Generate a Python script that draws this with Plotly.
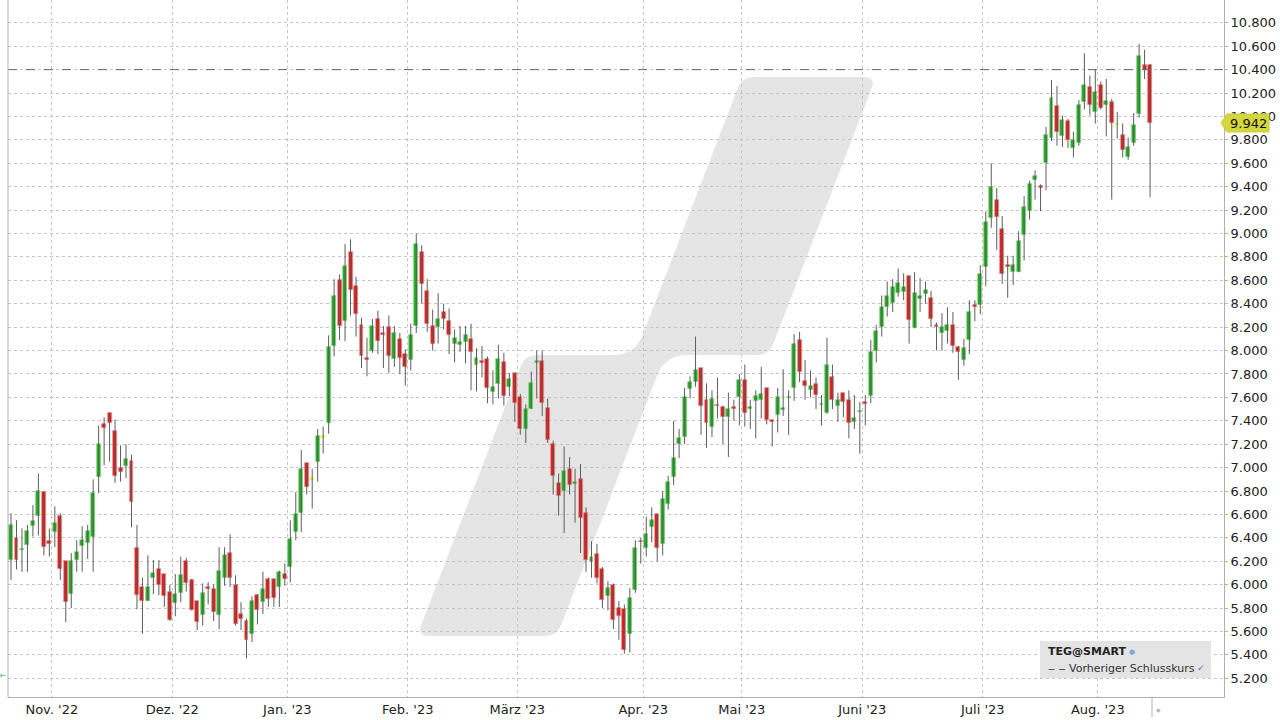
import pandas as pd
import plotly.graph_objects as go

# ---------------- data ----------------
holidays = ["2022-12-26", "2023-04-07", "2023-04-10", "2023-05-01"]
dates = [d for d in pd.bdate_range("2022-10-20", "2023-08-14") if d.strftime("%Y-%m-%d") not in holidays]

open_ = [6.21, 6.40, 6.30, 6.34, 6.50, 6.59, 6.79, 6.37, 6.45, 6.59,
         6.20, 5.92, 6.21, 6.33, 6.36, 6.41, 6.92, 7.37, 7.47, 7.31,
         7.00, 7.01, 7.06, 6.31, 5.98, 5.86, 6.06, 6.13, 6.09, 5.94,
         5.84, 5.93, 6.20, 6.04, 5.86, 5.74, 5.98, 5.96, 5.74, 6.06,
         6.27, 6.00, 5.75, 5.69, 5.58, 5.91, 5.85, 6.05, 6.05, 5.98,
         6.09, 6.15, 6.45, 6.61, 7.04, 6.90, 7.05, 7.26, 7.38, 8.04,
         8.60, 8.25, 8.84, 8.55, 8.22, 7.94, 8.00, 8.27, 8.15, 8.20,
         7.93, 8.10, 7.97, 7.92, 8.21, 8.84, 8.51, 8.21, 8.20, 8.33,
         8.25, 8.06, 8.05, 8.07, 8.10, 7.88, 7.91, 7.93, 7.65, 7.71,
         7.90, 7.69, 7.81, 7.60, 7.33, 7.50, 7.90, 7.91, 7.51, 7.20,
         6.87, 6.80, 6.99, 6.87, 6.90, 6.61, 6.19, 6.26, 6.13, 5.90,
         6.00, 5.80, 5.79, 5.58, 5.95, 6.38, 6.31, 6.49, 6.60, 6.35,
         6.69, 6.92, 7.20, 7.26, 7.67, 7.73, 7.85, 7.58, 7.35, 7.54,
         7.52, 7.43, 7.52, 7.60, 7.75, 7.50, 7.57, 7.58, 7.68, 7.41,
         7.45, 7.50, 7.60, 7.68, 8.09, 7.74, 7.66, 7.71, 7.54, 7.47,
         7.77, 7.53, 7.64, 7.58, 7.39, 7.48, 7.56, 7.61, 8.00, 8.20,
         8.37, 8.41, 8.49, 8.50, 8.64, 8.19, 8.44, 8.48, 8.45, 8.22,
         8.15, 8.17, 8.22, 8.03, 7.92, 8.09, 8.39, 8.39, 8.71, 9.13,
         9.29, 9.04, 8.73, 8.67, 8.67, 8.99, 9.19, 9.46, 9.41, 9.60,
         9.82, 10.09, 9.83, 9.96, 9.73, 9.77, 10.12, 10.25, 10.04, 10.27,
         10.10, 10.12, 9.93, 9.84, 9.65, 9.77, 10.02, 10.44, 10.44]
high = [6.61, 6.55, 6.48, 6.51, 6.68, 6.95, 6.80, 6.48, 6.67, 6.61,
        6.20, 6.27, 6.38, 6.50, 6.51, 6.90, 7.36, 7.43, 7.47, 7.41,
        7.19, 7.20, 7.11, 6.51, 6.06, 6.25, 6.21, 6.21, 6.09, 6.00,
        6.09, 6.24, 6.23, 6.05, 5.86, 6.01, 6.02, 6.00, 6.32, 6.32,
        6.43, 6.08, 5.85, 5.71, 5.90, 5.92, 6.11, 6.06, 6.05, 6.12,
        6.18, 6.55, 6.79, 7.15, 7.04, 6.99, 7.33, 7.35, 8.13, 8.61,
        8.65, 8.91, 8.95, 8.63, 8.28, 8.11, 8.27, 8.34, 8.21, 8.30,
        8.21, 8.15, 8.01, 8.23, 9.00, 8.90, 8.61, 8.35, 8.49, 8.40,
        8.36, 8.18, 8.21, 8.21, 8.23, 8.02, 8.04, 7.95, 7.83, 8.05,
        7.98, 7.81, 7.81, 7.63, 7.54, 7.82, 8.00, 8.00, 7.59, 7.23,
        6.95, 7.18, 7.09, 6.99, 7.03, 6.66, 6.37, 6.35, 6.15, 6.03,
        6.01, 5.86, 5.83, 5.97, 6.38, 6.40, 6.58, 6.66, 6.60, 6.80,
        6.93, 7.40, 7.33, 7.68, 7.78, 8.12, 7.85, 7.72, 7.66, 7.77,
        7.53, 7.64, 7.58, 7.80, 7.88, 7.58, 7.66, 7.86, 7.68, 7.41,
        7.68, 7.84, 7.66, 8.14, 8.16, 7.92, 7.83, 7.77, 7.62, 8.11,
        7.88, 7.64, 7.64, 7.66, 7.62, 7.56, 7.62, 8.09, 8.22, 8.47,
        8.59, 8.61, 8.70, 8.66, 8.64, 8.67, 8.62, 8.59, 8.51, 8.24,
        8.32, 8.37, 8.33, 8.04, 8.10, 8.43, 8.43, 8.73, 9.19, 9.60,
        9.39, 9.15, 8.81, 8.81, 9.02, 9.32, 9.45, 9.54, 9.42, 9.91,
        10.31, 10.26, 10.01, 9.98, 9.87, 10.14, 10.54, 10.35, 10.40, 10.30,
        10.32, 10.15, 10.04, 9.94, 9.82, 10.03, 10.62, 10.57, 10.45]
low = [6.04, 6.13, 6.11, 6.11, 6.41, 6.42, 6.25, 6.24, 6.32, 6.04,
       5.68, 5.80, 6.11, 6.11, 6.22, 6.11, 6.78, 7.02, 7.05, 6.87,
       6.88, 6.91, 6.49, 5.79, 5.58, 5.86, 5.92, 5.91, 5.81, 5.69,
       5.73, 5.85, 5.94, 5.78, 5.61, 5.65, 5.83, 5.69, 5.62, 5.99,
       5.98, 5.65, 5.61, 5.37, 5.51, 5.66, 5.75, 5.81, 5.81, 5.81,
       5.99, 6.02, 6.38, 6.45, 6.77, 6.65, 6.88, 7.12, 7.29, 7.95,
       8.09, 8.08, 8.30, 8.12, 7.85, 7.78, 7.98, 7.97, 7.85, 7.81,
       7.86, 7.80, 7.70, 7.83, 8.15, 8.40, 8.16, 8.00, 8.06, 8.18,
       7.97, 7.90, 7.99, 7.89, 7.66, 7.65, 7.77, 7.55, 7.54, 7.59,
       7.53, 7.61, 7.39, 7.28, 7.21, 7.50, 7.59, 7.44, 7.21, 6.77,
       6.59, 6.44, 6.77, 6.53, 6.27, 6.11, 6.06, 6.01, 5.80, 5.78,
       5.62, 5.53, 5.41, 5.42, 5.93, 6.18, 6.24, 6.36, 6.20, 6.25,
       6.64, 6.85, 7.08, 7.20, 7.59, 7.69, 7.28, 7.17, 7.26, 7.42,
       7.20, 7.09, 7.40, 7.36, 7.35, 7.33, 7.25, 7.42, 7.37, 7.18,
       7.30, 7.44, 7.28, 7.57, 7.73, 7.58, 7.60, 7.50, 7.36, 7.46,
       7.50, 7.39, 7.43, 7.25, 7.33, 7.12, 7.36, 7.55, 7.90, 8.12,
       8.29, 8.33, 8.46, 8.43, 8.06, 8.19, 8.33, 8.40, 8.20, 8.00,
       8.00, 8.06, 7.98, 7.75, 7.87, 7.97, 8.25, 8.31, 8.55, 9.05,
       8.86, 8.57, 8.45, 8.56, 8.67, 8.77, 9.12, 9.29, 9.19, 9.37,
       9.79, 9.75, 9.74, 9.73, 9.65, 9.75, 10.06, 10.01, 9.94, 10.06,
       9.83, 9.29, 9.81, 9.65, 9.63, 9.75, 9.99, 10.32, 9.31]
close = [6.51, 6.21, 6.31, 6.46, 6.54, 6.80, 6.32, 6.35, 6.53, 6.13,
         5.85, 6.20, 6.28, 6.38, 6.46, 6.78, 7.20, 7.34, 7.38, 6.93,
         6.96, 7.07, 6.71, 5.91, 5.86, 5.98, 6.10, 6.00, 5.90, 5.70,
         5.92, 6.08, 6.01, 5.78, 5.68, 5.93, 5.96, 5.77, 6.12, 6.25,
         6.06, 5.66, 5.71, 5.53, 5.86, 5.78, 5.96, 5.88, 5.89, 6.11,
         6.05, 6.39, 6.60, 6.99, 6.83, 6.90, 7.27, 7.26, 8.03, 8.47,
         8.21, 8.72, 8.52, 8.31, 7.95, 7.93, 8.21, 8.08, 8.13, 7.95,
         8.15, 7.94, 7.86, 8.13, 8.91, 8.57, 8.23, 8.06, 8.27, 8.27,
         8.13, 8.11, 8.07, 8.13, 7.99, 7.94, 7.90, 7.68, 7.69, 7.93,
         7.61, 7.76, 7.55, 7.33, 7.50, 7.72, 7.91, 7.55, 7.24, 6.93,
         6.76, 6.97, 6.85, 6.88, 6.57, 6.21, 6.24, 6.06, 5.87, 5.97,
         5.70, 5.73, 5.44, 5.89, 6.31, 6.37, 6.43, 6.55, 6.31, 6.73,
         6.88, 7.08, 7.25, 7.60, 7.73, 7.83, 7.53, 7.38, 7.59, 7.53,
         7.43, 7.50, 7.51, 7.75, 7.47, 7.52, 7.61, 7.63, 7.41, 7.40,
         7.60, 7.51, 7.61, 8.06, 7.82, 7.70, 7.70, 7.62, 7.55, 7.88,
         7.58, 7.58, 7.56, 7.38, 7.42, 7.49, 7.55, 7.99, 8.17, 8.37,
         8.47, 8.54, 8.58, 8.54, 8.26, 8.49, 8.47, 8.52, 8.27, 8.20,
         8.20, 8.22, 8.04, 7.99, 8.02, 8.33, 8.37, 8.65, 9.10, 9.40,
         9.14, 8.65, 8.72, 8.73, 8.94, 9.23, 9.42, 9.49, 9.39, 9.84,
         10.16, 9.87, 9.97, 9.80, 9.80, 10.10, 10.27, 10.10, 10.21, 10.07,
         10.13, 9.94, 9.93, 9.71, 9.74, 9.93, 10.52, 10.40, 9.942]

month_labels = ["Nov. '22", "Dez. '22", "Jan. '23", "Feb. '23", "März '23",
                "Apr. '23", "Mai '23", "Juni '23", "Juli '23", "Aug. '23"]
y_ticks = [5.2, 5.4, 5.6, 5.8, 6.0, 6.2, 6.4, 6.6, 6.8, 7.0, 7.2, 7.4, 7.6, 7.8,
           8.0, 8.2, 8.4, 8.6, 8.8, 9.0, 9.2, 9.4, 9.6, 9.8, 10.0, 10.2, 10.4, 10.6, 10.8]
prev_close = 10.40
last_price = 9.942
legend_title = "TEG@SMART"
legend_line = "Vorheriger Schlusskurs"

# ---------------- geometry helpers (pixel -> paper) ----------------
L_PX, R_PX, T_PX, B_PX = 8, 1224, 0, 697
def px(x):
    return (x - L_PX) / (R_PX - L_PX)
def py(y):
    return (B_PX - y) / (B_PX - T_PX)

def rounded_path(points, radii):
    import math
    n = len(points)
    segs = []
    for i in range(n):
        v = points[i]
        p = points[i - 1]
        q = points[(i + 1) % n]
        r = radii[i]
        def unit(a, b):
            dx, dy = b[0] - a[0], b[1] - a[1]
            d = math.hypot(dx, dy)
            return dx / d, dy / d
        u1 = unit(v, p)
        u2 = unit(v, q)
        pin = (v[0] + r * u1[0], v[1] + r * u1[1])
        pout = (v[0] + r * u2[0], v[1] + r * u2[1])
        segs.append((pin, v, pout))
    path = "M %.5f,%.5f " % (px(segs[0][2][0]), py(segs[0][2][1]))
    for i in range(1, n + 1):
        pin, v, pout = segs[i % n]
        path += "L %.5f,%.5f Q %.5f,%.5f %.5f,%.5f " % (
            px(pin[0]), py(pin[1]), px(v[0]), py(v[1]), px(pout[0]), py(pout[1]))
    return path + "Z"

# ---------------- traces ----------------
idx = list(range(len(dates)))
assert len(idx) == len(open_) == len(high) == len(low) == len(close)

wx, wy = [], []
for i in idx:
    wx += [i, i, None]
    wy += [low[i], high[i], None]

fig = go.Figure()
fig.add_trace(go.Scatter(x=wx, y=wy, mode="lines",
                         line=dict(color="#5c5c5c", width=1),
                         hoverinfo="skip", showlegend=False))

groups = {
    "up": ("#25ac25", "#86d886"),
    "down": ("#da1c1c", "#f28c8c"),
    "flat": ("#e8e82a", "#f4f47a"),
}
for g, (fill, edge) in groups.items():
    xs, hs, bs = [], [], []
    for i in idx:
        o, c = open_[i], close[i]
        kind = "up" if c > o else ("down" if c < o else "flat")
        if kind != g:
            continue
        xs.append(i)
        hs.append(max(abs(c - o), 0.014))
        bs.append(min(o, c) - (0.007 if abs(c - o) < 0.014 else 0))
    fig.add_trace(go.Bar(x=xs, y=hs, base=bs, width=0.72,
                         marker=dict(color=fill, line=dict(color=edge, width=0.7)),
                         hoverinfo="skip", showlegend=False))

# month ticks: first trading day of each month, gridline half a day before
month_idx = [i for i in idx if i > 0 and dates[i].month != dates[i - 1].month]
tickvals = [i - 0.55 for i in month_idx]

shapes = []
# watermark logo
wm_pts = [(417, 636), (557, 636), (665, 355), (769, 355), (876, 77), (742, 77), (635, 355), (525, 355)]
wm_r = [12, 12, 22, 12, 12, 12, 22, 12]
shapes.append(dict(type="path", path=rounded_path(wm_pts, wm_r), xref="paper", yref="paper",
                   fillcolor="#e5e5e5", line=dict(width=0), layer="below"))
# previous close dashed line
shapes.append(dict(type="line", xref="paper", x0=0, x1=1, yref="y", y0=prev_close, y1=prev_close,
                   line=dict(color="#666666", width=1, dash="dash"), layer="above"))
# left border
shapes.append(dict(type="line", xref="paper", yref="paper", x0=0, x1=0, y0=0, y1=1,
                   line=dict(color="#b0b0b0", width=1)))
# legend box
shapes.append(dict(type="rect", xref="paper", yref="paper", x0=px(1040), x1=px(1211),
                   y0=py(678), y1=py(641), fillcolor="#e4e4e4", line=dict(width=0), layer="above"))
# last price tag
tag = "M %.5f,%.5f L %.5f,%.5f L %.5f,%.5f L %.5f,%.5f L %.5f,%.5f Z" % (
    px(1221), py(123), px(1227), py(114), px(1269), py(114), px(1269), py(132), px(1227), py(132))
shapes.append(dict(type="path", path=tag, xref="paper", yref="paper",
                   fillcolor="#d3d63c", line=dict(color="#c9cc3a", width=1), layer="above"))
# bottom-right separator
shapes.append(dict(type="line", xref="paper", yref="paper", x0=px(1152), x1=px(1152),
                   y0=py(717), y1=py(698), line=dict(color="#b0b0b0", width=1)))

font = "DejaVu Sans, Verdana, sans-serif"
annotations = [
    dict(xref="paper", yref="y", x=px(1228), y=last_price, text="9.942", showarrow=False,
         xanchor="left", yanchor="middle", font=dict(family=font, size=13, color="#111")),
    dict(xref="paper", yref="paper", x=px(1046), y=py(651), text="<b>" + legend_title + "</b>",
         showarrow=False, xanchor="left", yanchor="middle", font=dict(family=font, size=11, color="#222")),
    dict(xref="paper", yref="paper", x=px(1132), y=py(652), text="●", showarrow=False,
         xanchor="center", yanchor="middle", font=dict(family=font, size=7, color="#7fa9d9")),
    dict(xref="paper", yref="paper", x=px(1046), y=py(668), text="‒ ‒ " + legend_line,
         showarrow=False, xanchor="left", yanchor="middle", font=dict(family=font, size=11, color="#333")),
    dict(xref="paper", yref="paper", x=px(1201), y=py(668), text="✓", showarrow=False,
         xanchor="center", yanchor="middle", font=dict(family=font, size=9, color="#3c7fd6")),
    dict(xref="paper", yref="paper", x=px(1158), y=py(709), text="◆", showarrow=False,
         xanchor="center", yanchor="middle", font=dict(family=font, size=6, color="#b5b5b5")),
    dict(xref="paper", yref="paper", x=px(3), y=py(675), text="←", showarrow=False,
         xanchor="center", yanchor="middle", font=dict(family=font, size=8, color="#4caf50")),
]

fig.update_layout(
    width=1280, height=720,
    margin=dict(l=L_PX, r=1280 - R_PX, t=T_PX, b=720 - B_PX, pad=0),
    paper_bgcolor="white", plot_bgcolor="white",
    barmode="overlay", bargap=0,
    showlegend=False,
    shapes=shapes, annotations=annotations,
    font=dict(family=font, size=13, color="#222"),
    xaxis=dict(type="linear", range=[-0.55, 221.5], tickvals=tickvals, ticktext=month_labels,
               showgrid=True, gridcolor="#c4c4c4", griddash="dot", gridwidth=1,
               zeroline=False, showline=True, linecolor="#b0b0b0", linewidth=1,
               ticks="", tickfont=dict(family=font, size=13, color="#222")),
    yaxis=dict(side="right", range=[5.04, 10.995], tickvals=y_ticks,
               ticktext=["%.3f" % v for v in y_ticks],
               showgrid=True, gridcolor="#c4c4c4", griddash="dot", gridwidth=1,
               zeroline=False, showline=True, linecolor="#b0b0b0", linewidth=1,
               ticks="outside", ticklen=3, tickcolor="#b0b0b0",
               tickfont=dict(family=font, size=13, color="#222")),
)

fig.write_html("out.html", config={"displayModeBar": False},
               post_script="document.body.style.margin='0px';")
